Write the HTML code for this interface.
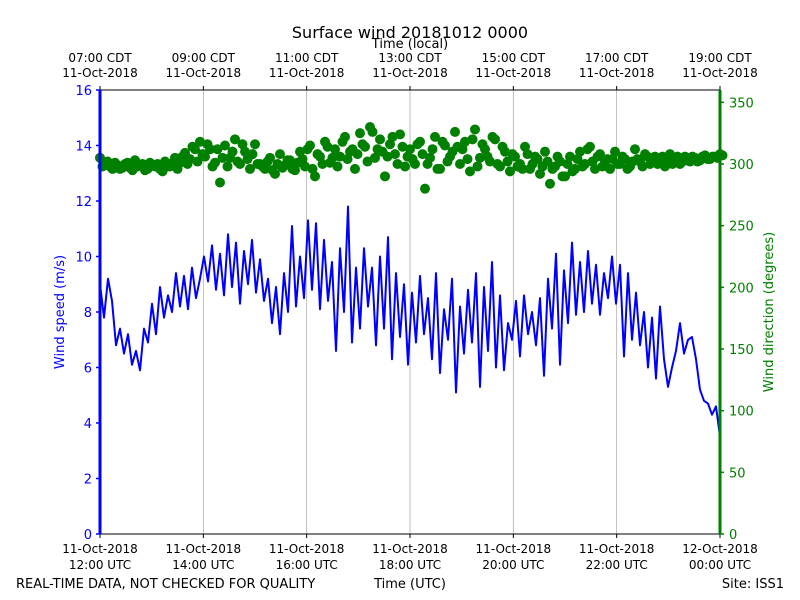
<!DOCTYPE html>
<html><head><meta charset="utf-8">
<style>
body{margin:0;background:#fff;}
svg{display:block;font-family:"DejaVu Sans","Liberation Sans",sans-serif;}
</style></head>
<body>
<svg id="chart" width="800" height="600" viewBox="0 0 800 600" xmlns="http://www.w3.org/2000/svg">
<rect width="800" height="600" fill="#fff"/>
<text x="410" y="38" font-size="16" text-anchor="middle">Surface wind 20181012 0000</text>
<text x="410" y="48" font-size="13" text-anchor="middle">Time (local)</text>
<text x="16" y="588" font-size="13">REAL-TIME DATA, NOT CHECKED FOR QUALITY</text>
<text x="410" y="588" font-size="13" text-anchor="middle">Time (UTC)</text>
<text x="784" y="588" font-size="13" text-anchor="end">Site: ISS1</text>
<text transform="translate(64,312) rotate(-90)" font-size="13" fill="#0000ff" text-anchor="middle">Wind speed (m/s)</text>
<text transform="translate(773,312) rotate(-90)" font-size="13" fill="#008000" text-anchor="middle">Wind direction (degrees)</text>
<g id="grid"></g><g id="dirs"></g><g id="speed"></g><g id="axes"></g>
</svg>
<script>
const speedValues=[9.0,7.8,9.2, 8.4,6.8,7.4,6.5,7.2, 6.1,6.6,5.9,7.4, 6.9,8.3,7.2,8.9, 7.8,8.6,8.0,9.4,8.2, 9.3,8.1,9.6,8.5,9.2, 10.0,9.1,10.4,8.8,
10.1,8.6,10.8,8.9,10.5,8.3,10.2,9.0,10.6,8.7,9.9,8.4, 9.2,7.6,8.9,7.2,9.4,8.0, 11.1,8.2,10.0, 8.5,11.3,8.8,11.2,8.1,10.6,8.4,
9.8,6.6,10.3,8.0,11.8,6.9,9.6, 7.4,10.3,8.2,9.6,6.8,10.0,7.4,10.7,6.3,9.4,7.1,9.0,6.1,
8.7,6.9,9.3,7.2,8.5,6.3,9.4,5.8,8.1,7.0,9.2,5.1,8.2,6.5,8.8, 6.9,9.4,5.3,8.9,6.6,9.8,6.0,8.6,5.9,7.6,
7.0,8.4,6.4,8.6,7.2,8.0,6.8,8.5,5.7, 9.2,7.4,10.1,6.1,9.5,7.6,10.5,7.9,9.8,8.0,10.2,8.3,9.7,7.9,
9.4,8.5,10.0,8.3, 9.7,6.4,9.4,7.0,8.7,6.8, 8.0,6.0,7.8,5.6,8.2,6.3,5.3, 6.0,6.6,7.6,6.5,7.0,7.1, 6.3,5.2,4.8,4.7,4.3,4.6,3.5];
const dirValues=[305,300,298,301,296,300,297,303,299,295,301,298, 296,302,298,305,301,309,304,312,
318,306,312,301,285,315,305,320,300,310,296,316, 300,296,305,292,308,299,303,295, 310,298,315,290,306,318,301,312,
306,322,310,296,325,314,330,305,320,290,316,308,324,298, 312,300,318,280,305,322,296,315,306,326,
300,318,294,328,305,312,302,320,298,310,294,306, 300,314,296,306,292,310, 284,298,302,290,306,296,310,300,314,296,308,302,
296,310,300,304,298,312,302,308, 300,306,302,298,308,304,300,306,302,305,303,307,304,306,308];
const dirValues2=[298,302,296,299,297,301,295,298,300,296,299,300, 294,298,301,296,306,300,314,302,
308,316,298,312,305,298,310,302,316,304,308,300, 298,302,295,300,297,303,296,301, 304,312,296,308,300,314,305,298,
318,304,312,308,316,302,326,312,310,306,322,300,314,306, 304,316,308,300,312,296,318,302,310,314,
312,304,320,298,316,306,322,300,314,302,308,298, 296,308,300,304,298,302, 296,306,290,300,294,304,298,312,302,306,298,304,
304,300,306,296,302,304,298,306, 304,300,306,302,300,306,302,304,306,302,306,304,306,305,307];
const utcTicks=["11-Oct-2018|12:00 UTC","11-Oct-2018|14:00 UTC","11-Oct-2018|16:00 UTC","11-Oct-2018|18:00 UTC","11-Oct-2018|20:00 UTC","11-Oct-2018|22:00 UTC","12-Oct-2018|00:00 UTC"];
const localTicks=["07:00 CDT|11-Oct-2018","09:00 CDT|11-Oct-2018","11:00 CDT|11-Oct-2018","13:00 CDT|11-Oct-2018","15:00 CDT|11-Oct-2018","17:00 CDT|11-Oct-2018","19:00 CDT|11-Oct-2018"];
const speedTicks=[0,2,4,6,8,10,12,14,16];
const dirTicks=[0,50,100,150,200,250,300,350];
const L=100,R=720,T=90,B=534,HOURS=12;
const xH=h=>L+h/HOURS*(R-L);
const yS=v=>B-v/16*(B-T);
const yD=d=>B-d/360*(B-T);
const NS="http://www.w3.org/2000/svg";
function mk(tag,attrs,parent,txt){const e=document.createElementNS(NS,tag);for(const k in attrs)e.setAttribute(k,attrs[k]);if(txt!==undefined)e.textContent=txt;parent.appendChild(e);return e;}
const grid=document.getElementById('grid'),axes=document.getElementById('axes');
utcTicks.forEach((t,i)=>{
  const x=xH(i*2);
  if(i>0&&i<utcTicks.length-1){const g=mk('line',{x1:x,x2:x,y1:T,y2:B,stroke:'#b0b0b0','stroke-width':0.8},grid);
  }
  mk('line',{x1:x,x2:x,y1:B,y2:B+4,stroke:'#000'},axes);
  mk('line',{x1:x,x2:x,y1:T,y2:T-4,stroke:'#000'},axes);
  const p=t.split('|');
  const a=mk('text',{x:x,y:553,'font-size':12,'text-anchor':'middle'},axes,p[0]);
  
  const b=mk('text',{x:x,y:569,'font-size':12,'text-anchor':'middle'},axes,p[1]);
  
  const q=localTicks[i].split('|');
  const c=mk('text',{x:x,y:62,'font-size':12,'text-anchor':'middle'},axes,q[0]);
  
  const d=mk('text',{x:x,y:77,'font-size':12,'text-anchor':'middle'},axes,q[1]);
  
});
const dirs=document.getElementById('dirs');
const step=HOURS/(dirValues.length-1);
dirValues.forEach((d,i)=>{
  const c=mk('circle',{cx:xH(i*step),cy:yD(d),r:5,fill:'#008000'},dirs);
  
});
dirValues2.forEach((d,i)=>{
  const c=mk('circle',{cx:xH((i+0.5)*step),cy:yD(d),r:5,fill:'#008000'},dirs);
  
});
const pts=speedValues.map((v,i)=>xH(i*HOURS/(speedValues.length-1)).toFixed(1)+','+yS(v).toFixed(1)).join(' ');
const pl=mk('polyline',{points:pts,fill:'none',stroke:'#0000ff','stroke-width':2,'stroke-linejoin':'round'},document.getElementById('speed'));

const fr=mk('rect',{x:L,y:T,width:R-L,height:B-T,fill:'none',stroke:'#000','stroke-width':1},axes);

const ls=mk('line',{x1:L,x2:L,y1:T,y2:B,stroke:'#0000ff','stroke-width':3},axes);

const rs=mk('line',{x1:R,x2:R,y1:T,y2:B,stroke:'#008000','stroke-width':3},axes);

speedTicks.forEach(v=>{const y=yS(v);
  mk('line',{x1:L-4,x2:L,y1:y,y2:y,stroke:'#0000ff','stroke-width':1.5},axes);
  const t=mk('text',{x:L-8,y:y+5,'font-size':13,'text-anchor':'end',fill:'#0000ff'},axes,String(v));
  });
dirTicks.forEach(v=>{const y=yD(v);
  mk('line',{x1:R,x2:R+4,y1:y,y2:y,stroke:'#008000','stroke-width':1.5},axes);
  const t=mk('text',{x:R+9,y:y+5,'font-size':13,'text-anchor':'start',fill:'#008000'},axes,String(v));
  });
</script>
</body></html>
